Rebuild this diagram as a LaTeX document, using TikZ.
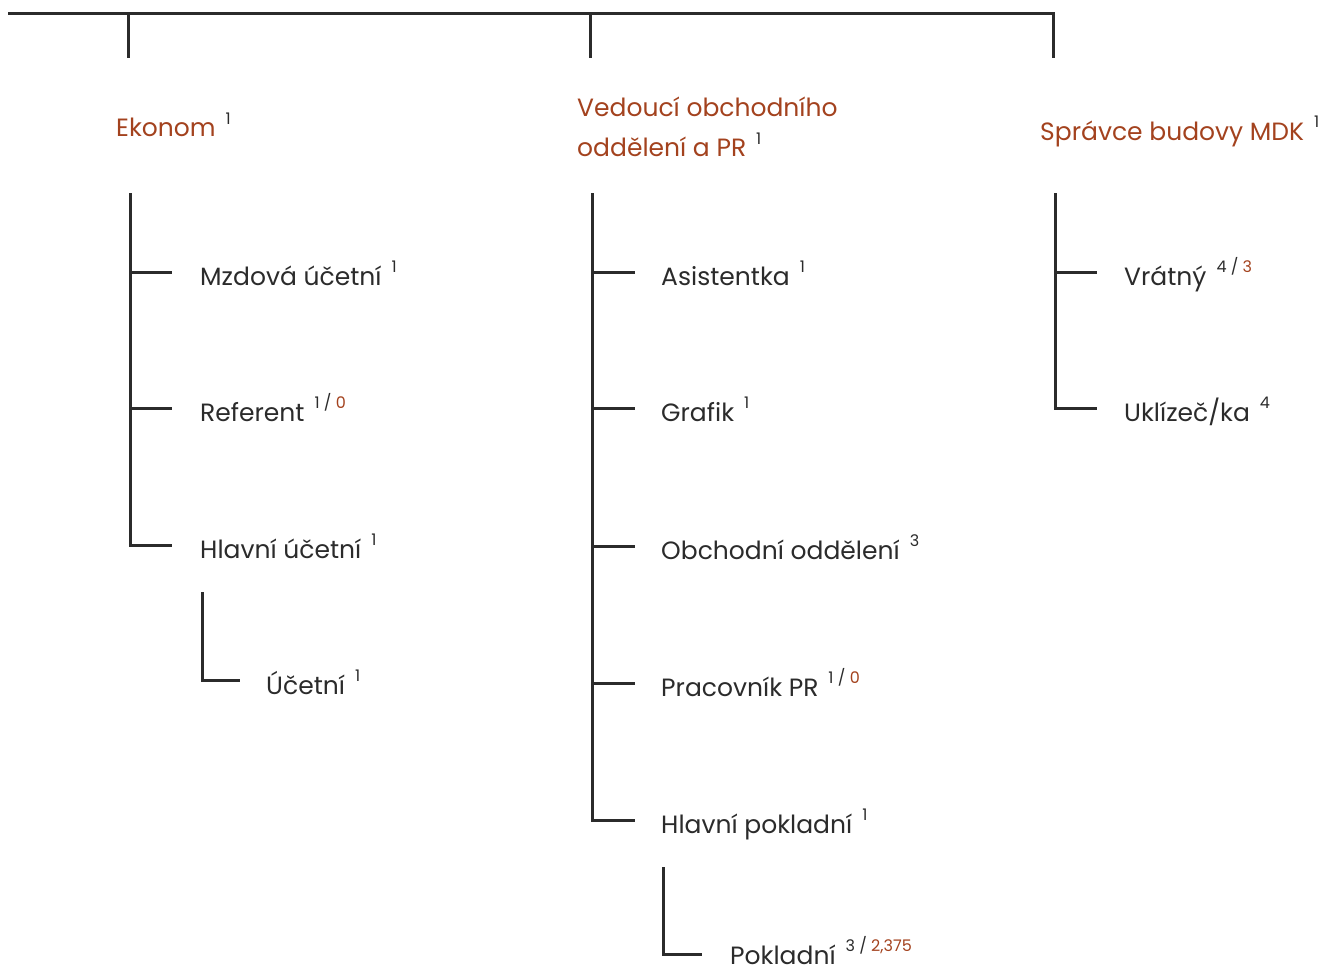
\documentclass[tikz,border=0pt]{standalone}
\usepackage{fontspec}
\setmainfont{Poppins}
\usetikzlibrary{positioning,calc}
\definecolor{headred}{HTML}{A3421E}
\definecolor{linegrey}{HTML}{2B2B2B}
\tikzset{
    branch/.style={linegrey,line width=3pt},
    head/.style={anchor=base west,inner sep=0pt,text=headred},
    role/.style={anchor=base west,inner sep=0pt,text=linegrey},
}
\tikzstyle{every node}=[font=\fontsize{25}{29}\selectfont]
\newcommand{\cnt}[1]{\hspace{0.4em}\raisebox{0.5em}{\fontsize{16}{16}\selectfont\textcolor{linegrey}{#1}}}
\newcommand{\redcnt}[1]{\textcolor{headred}{#1}}

\begin{document}
\begin{tikzpicture}[x=1pt,y=-1pt]
    \useasboundingbox (0,0) rectangle (1330,971);

    % top bar and drops
    \coordinate (bar w) at (8,14);
    \coordinate (bar e) at (1053,14);
    \draw[branch] (bar w) -- (bar e) -- ++(0,44);
    \draw[branch] (128,14) -- ++(0,44);
    \draw[branch] (590,14) -- ++(0,44);

    % heads
    \node[head] (ekon) at (116,137) {Ekonom\cnt{1}};
    \node[head] (ved) at (577,117) {Vedoucí obchodního};
    \node[head] (ved2) at (577,157) {oddělení a PR\cnt{1}};
    \node[head] (sprav) at (1040,140) {Správce budovy MDK\cnt{1}};

    % left branch
    \node[role] (mzd) at (200,285) {Mzdová účetní\cnt{1}};
    \node[role] (ref) at (200,421) {Referent\cnt{1 / \redcnt{0}}};
    \node[role] (hlu) at (200,558) {Hlavní účetní\cnt{1}};
    \node[role] (uce) at (266,694) {Účetní\cnt{1}};
    \draw[branch] (130,193) |- ($(hlu.base west)+(-28,-13)$);
    \draw[branch] ($(mzd.base west)+(-70,-13)$) -- ++(42,0);
    \draw[branch] ($(ref.base west)+(-70,-13)$) -- ++(42,0);
    \draw[branch] (202,592) |- ($(uce.base west)+(-26,-14)$);

    % middle branch
    \node[role] (asi) at (661,285) {Asistentka\cnt{1}};
    \node[role] (gra) at (661,421) {Grafik\cnt{1}};
    \node[role] (obo) at (661,559) {Obchodní oddělení\cnt{3}};
    \node[role] (ppr) at (661,696) {Pracovník PR\cnt{1 / \redcnt{0}}};
    \node[role] (hlp) at (661,833) {Hlavní pokladní\cnt{1}};
    \node[role] (pok) at (730,964) {Pokladní\cnt{3 / \redcnt{2,375}}};
    \draw[branch] (592,193) |- ($(hlp.base west)+(-26,-13)$);
    \foreach \n in {asi,gra,obo,ppr}
        \draw[branch] ($(\n.base west)+(-69,-13)$) -- ++(43,0);
    \draw[branch] (663,867) |- ($(pok.base west)+(-28,-10)$);

    % right branch
    \node[role] (vra) at (1124,285) {Vrátný\cnt{4 / \redcnt{3}}};
    \node[role] (ukl) at (1124,421) {Uklízeč/ka\cnt{4}};
    \draw[branch] (1055,193) |- ($(ukl.base west)+(-27,-13)$);
    \draw[branch] ($(vra.base west)+(-69,-13)$) -- ++(42,0);
\end{tikzpicture}
\end{document}
